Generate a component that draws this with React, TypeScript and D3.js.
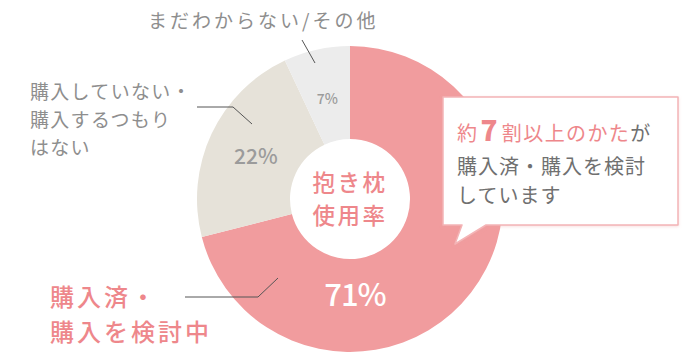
import React from 'react';
import * as d3 from 'd3';

const categories = ['購入済・購入を検討中', '購入していない・購入するつもりはない', 'まだわからない/その他'];
const values = [71, 22, 7];
const sliceColors = ['#F19C9E', '#E6E2D9', '#ECECEC'];
const pctColors = ['#FFFFFF', '#9B9B9B', '#9B9B9B'];

const centerLines = ['抱き枕', '使用率'];
const calloutLines = ['購入済・購入を検討', 'しています'];

const W = 700;
const H = 362;
const FONT = '"Noto Sans CJK JP", "Noto Sans", sans-serif';
const PINK = '#EE878B';
const GRAY = '#8E8E8E';

export default function App() {
  const cx = 350;
  const cy = 199;
  const outerR = 153;
  const innerR = 60;

  const pie = d3.pie<number>().sort(null).value(d => d);
  const arcs = pie(values);
  const arc = d3.arc<d3.PieArcDatum<number>>().innerRadius(innerR).outerRadius(outerR);
  const labelArc = d3.arc<d3.PieArcDatum<number>>().innerRadius(208).outerRadius(208);

  // the big slice carries its label at the bottom of the ring
  const pctPos = arcs.map((a, i) => {
    if (i === 0) return [5, 93];
    return labelArc.centroid(a).map(v => v / 2);
  });

  return (
    <div style={{ position: 'absolute', left: 0, top: 0 }}>
      <svg width={W} height={H} style={{ display: 'block', fontFamily: FONT }}>
        <defs>
          <filter id="sh" x="-10%" y="-10%" width="120%" height="130%">
            <feDropShadow dx="0" dy="1" stdDeviation="1.5" floodColor="#E8A0A0" floodOpacity="0.35" />
          </filter>
        </defs>
        <g transform={`translate(${cx},${cy})`}>
          {arcs.map((a, i) => (
            <path key={i} d={arc(a) || ''} fill={sliceColors[i]} />
          ))}
          {arcs.map((a, i) => (
            <text
              key={'p' + i}
              x={pctPos[i][0]}
              y={pctPos[i][1]}
              textAnchor="middle"
              dominantBaseline="central"
              fill={pctColors[i]}
              fontSize={i === 0 ? 31 : i === 1 ? 21 : 14}
              fontWeight={500}
              letterSpacing={i === 0 ? -1 : 0}
            >
              {a.data}%
            </text>
          ))}
          {centerLines.map((t, i) => (
            <text key={t} x={0} y={-8 + i * 33} textAnchor="middle" fill={PINK}
              fontSize={22.5} fontWeight={500} letterSpacing={2.5}>
              {t}
            </text>
          ))}
        </g>

        {/* leader lines */}
        <g stroke="#555" strokeWidth={1} fill="none">
          <polyline points="302,40 315,63" />
          <polyline points="197,107 233,107 252,124" />
          <polyline points="185,297 258,297 278,278" />
        </g>

        {/* category labels */}
        <text x={148} y={28} fill={GRAY} fontSize={19} letterSpacing={3}>{categories[2]}</text>
        {['購入していない・', '購入するつもり', 'はない'].map((t, i) => (
          <text key={t} x={30} y={99 + i * 28} fill={GRAY} fontSize={19} letterSpacing={1.3}>{t}</text>
        ))}
        {['購入済・', '購入を検討中'].map((t, i) => (
          <text key={t} x={50} y={306 + i * 35} fill={PINK} fontSize={24} fontWeight={500} letterSpacing={3}>{t}</text>
        ))}

        {/* callout */}
        <g filter="url(#sh)">
          <path
            d="M443,97 H678 V225 H486 L455,244 L462,225 H443 Z"
            fill="#fff"
            stroke="#F4B4B6"
            strokeWidth={1.5}
            strokeLinejoin="round"
          />
        </g>
        <text x={457} y={141} fontSize={20} letterSpacing={1.4}>
          <tspan fill={PINK}>約</tspan>
          <tspan fill={PINK} fontSize={28} fontWeight={800} dx={2}>7</tspan>
          <tspan fill={PINK} dx={3}>割以上のかた</tspan>
          <tspan fill="#707070">が</tspan>
        </text>
        {calloutLines.map((t, i) => (
          <text key={t} x={457} y={174 + i * 29} fill="#707070" fontSize={20} letterSpacing={1}>{t}</text>
        ))}
      </svg>
    </div>
  );
}
